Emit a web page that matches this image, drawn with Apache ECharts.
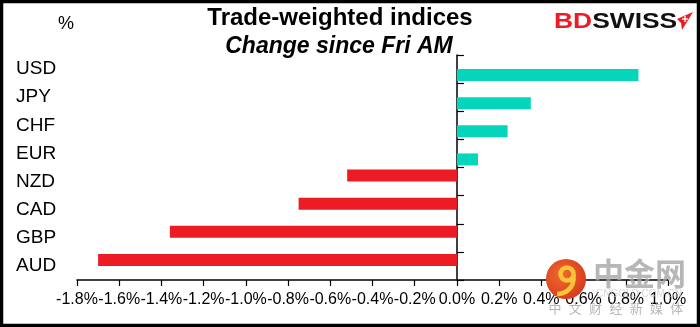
<!DOCTYPE html>
<html>
<head>
<meta charset="utf-8">
<script src="https://cdn.jsdelivr.net/npm/echarts@6/dist/echarts.min.js"></script>
<style>
html,body{margin:0;padding:0;background:#fff;}
#chart{width:700px;height:327px;}
</style>
</head>
<body>
<div id="chart"></div>
<script>
// Data
const categories = ['USD', 'JPY', 'CHF', 'EUR', 'NZD', 'CAD', 'GBP', 'AUD'];
const changes = [0.86, 0.35, 0.24, 0.10, -0.52, -0.75, -1.36, -1.70];
const xTickMin = -1.8;
const xTickMax = 1.0;
const xTickStep = 0.2;
const watermarkSub = ['中', '文', '财', '经', '新', '媒', '体'];

const negValues = changes.map(v => (v < 0 ? v : '-'));
const posValues = changes.map(v => (v >= 0 ? v : '-'));

const FONT = "'Liberation Sans', Arial, sans-serif";
const CJK = "'Noto Sans CJK SC', sans-serif";
const chart = echarts.init(document.getElementById('chart'), null, { renderer: 'canvas' });

const subChars = watermarkSub.map((c, i) => ({
  type: 'text', x: 555 + i * 20.3, y: 308, z: 100,
  style: { text: c, font: "13px " + CJK, fill: 'rgba(165,165,165,0.8)', align: 'center', verticalAlign: 'middle' }
}));

chart.setOption({
  animation: false,
  backgroundColor: '#ffffff',
  grid: { left: 77, right: 32, top: 55, bottom: 47, containLabel: false },
  xAxis: {
    type: 'value',
    min: xTickMin,
    max: xTickMax,
    interval: xTickStep,
    splitLine: { show: false },
    axisLine: { show: true, onZero: false, lineStyle: { color: '#000', width: 1.5 } },
    axisTick: { show: true, length: 6, lineStyle: { color: '#000', width: 1.2 } },
    axisLabel: {
      color: '#000', fontSize: 16, fontFamily: FONT, margin: 12,
      hideOverlap: false,
      formatter: v => (Math.abs(v) < 1e-9 ? '0.0' : v.toFixed(1)) + '%'
    }
  },
  yAxis: [
    {
      type: 'category',
      data: categories,
      inverse: true,
      position: 'left',
      axisLine: { show: false, onZero: false },
      axisTick: { show: false },
      axisLabel: { color: '#000', fontSize: 19, fontFamily: FONT, align: 'left', margin: 61, padding: [6, 0, 0, 0] }
    },
    {
      type: 'category',
      data: categories,
      inverse: true,
      position: 'right',
      axisLine: { show: true, onZero: true, lineStyle: { color: '#000', width: 1.5 } },
      axisTick: { show: true, inside: false, length: 7, lineStyle: { color: '#000', width: 1.2 } },
      axisLabel: { show: false },
      splitLine: { show: false }
    }
  ],
  series: [
    {
      type: 'bar', name: 'down', yAxisIndex: 0, data: negValues,
      barWidth: 12, barGap: '0%',
      itemStyle: { color: '#ED1C24' }
    },
    {
      type: 'bar', name: 'up', yAxisIndex: 0, data: posValues,
      barWidth: 12, barGap: '0%',
      itemStyle: { color: '#05D5BA' }
    }
  ],
  graphic: [
    { type: 'text', x: 340, y: 18, style: { text: 'Trade-weighted indices', font: "bold 24px " + FONT, fill: '#000', align: 'center', verticalAlign: 'middle' } },
    { type: 'text', x: 339, y: 47, style: { text: 'Change since Fri AM', font: "italic bold 23px " + FONT, fill: '#000', align: 'center', verticalAlign: 'middle' } },
    { type: 'text', x: 66, y: 24, style: { text: '%', font: "18px " + FONT, fill: '#000', align: 'center', verticalAlign: 'middle' } },
    {
      type: 'text', x: 554, y: 22, scaleX: 1.2, originX: 0,
      style: {
        text: '{b|BD}{s|SWISS}', verticalAlign: 'middle', align: 'left',
        rich: {
          b: { font: "bold 22px " + FONT, fill: '#ED1C24' },
          s: { font: "bold 22px " + FONT, fill: '#111' }
        }
      }
    },
    { type: 'polygon', shape: { points: [[677, 19], [693, 12], [682, 30], [681, 23]] }, style: { fill: '#ED1C24' } },
    { type: 'line', shape: { x1: 682, y1: 19, x2: 688, y2: 19 }, style: { stroke: '#fff', lineWidth: 1.3 } },
    { type: 'line', shape: { x1: 685, y1: 16, x2: 685, y2: 22 }, style: { stroke: '#fff', lineWidth: 1.3 } },
    // watermark
    { type: 'text', x: 639, y: 294, z: 99, style: { text: 'CNGOLD.COM.CN', font: "10px " + FONT, fill: 'rgba(200,200,200,0.7)', align: 'center', verticalAlign: 'middle' } },
    { type: 'text', x: 593, y: 273, z: 100, style: { text: '中金网', font: "bold 31px " + CJK, fill: 'rgba(165,165,165,0.8)', align: 'left', verticalAlign: 'middle' } },
    {
      type: 'circle', shape: { cx: 566, cy: 279, r: 20 }, z: 100,
      style: { fill: new echarts.graphic.RadialGradient(0.4, 0.4, 0.7, [{ offset: 0, color: '#f06a2e' }, { offset: 1, color: '#d5361c' }]) }
    },
    { type: 'arc', shape: { cx: 567, cy: 274, r: 6.5, startAngle: 0, endAngle: Math.PI * 2 }, z: 101, style: { stroke: '#f8c43a', lineWidth: 4.5, fill: null } },
    { type: 'bezierCurve', shape: { x1: 573.5, y1: 275, cpx1: 575, cpy1: 290, x2: 557, y2: 294, cpx2: 563, cpy2: 294 }, z: 101, style: { stroke: '#f8c43a', lineWidth: 4.5, fill: null } },
    ...subChars,
    // border
    { type: 'rect', shape: { x: 1.5, y: 1.5, width: 697, height: 324 }, z: 200, style: { fill: null, stroke: '#000', lineWidth: 3.5 } }
  ]
});
</script>
</body>
</html>
